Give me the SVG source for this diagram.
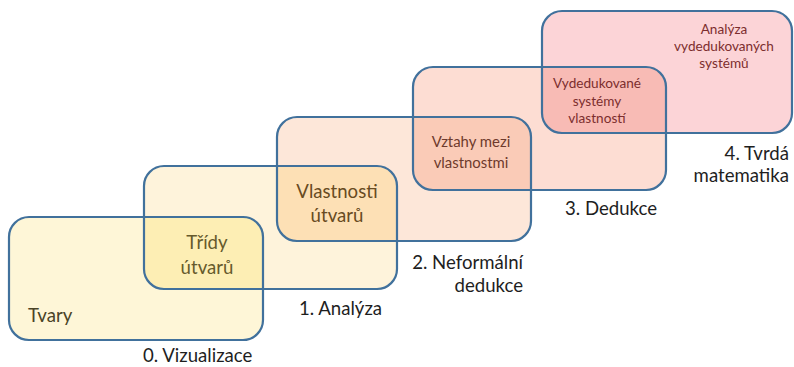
<svg xmlns="http://www.w3.org/2000/svg" xmlns:xlink="http://www.w3.org/1999/xlink" width="794" height="367" viewBox="0 0 794 367">
<style>
.ol{fill:none;stroke:#41719C;stroke-width:2.2}
.lbl{font-family:Lato,"Liberation Sans",sans-serif;font-size:18.6px;fill:#1E1E1E}
.in{font-family:Lato,"Liberation Sans",sans-serif;text-anchor:middle}
.big{font-size:18.6px}
.mid{font-size:14.9px}
.sm{font-size:13.6px}
</style>
<defs>
<rect id="r0" x="9" y="217" width="254" height="123" rx="20"/>
<rect id="r1" x="144" y="166" width="253" height="123" rx="20"/>
<rect id="r2" x="277" y="117" width="254" height="124" rx="20"/>
<rect id="r3" x="413" y="67" width="253" height="123" rx="20"/>
<rect id="r4" x="542" y="11" width="250" height="122" rx="20"/>
<clipPath id="c0"><use xlink:href="#r0"/></clipPath>
<clipPath id="c1"><use xlink:href="#r1"/></clipPath>
<clipPath id="c2"><use xlink:href="#r2"/></clipPath>
<clipPath id="c3"><use xlink:href="#r3"/></clipPath>
</defs>
<rect width="794" height="367" fill="#FFFFFF"/>
<g id="fills">
<use xlink:href="#r0" fill="#FEF6D7"/>
<use xlink:href="#r1" fill="#FEF3DB"/>
<use xlink:href="#r2" fill="#FDE7D9"/>
<use xlink:href="#r3" fill="#FDDDD3"/>
<use xlink:href="#r4" fill="#FCD4D7"/>
<use xlink:href="#r1" fill="#FDEEB4" clip-path="url(#c0)"/>
<use xlink:href="#r2" fill="#FDE0B5" clip-path="url(#c1)"/>
<use xlink:href="#r3" fill="#FACBB7" clip-path="url(#c2)"/>
<use xlink:href="#r4" fill="#F8BBB5" clip-path="url(#c3)"/>
</g>
<g id="stage0">
<use xlink:href="#r0" class="ol"/>
<text class="in big" x="28" y="322" style="text-anchor:start" fill="#4A4326">Tvary</text>
<text class="lbl" x="143" y="362">0. Vizualizace</text>
</g>
<g id="stage1">
<use xlink:href="#r1" class="ol"/>
<text class="in big" x="207" y="249" fill="#665A2C">Třídy</text>
<text class="in big" x="207" y="274" fill="#665A2C">útvarů</text>
<text class="lbl" x="299" y="315">1. Analýza</text>
</g>
<g id="stage2">
<use xlink:href="#r2" class="ol"/>
<text class="in big" x="337" y="198" fill="#684B22">Vlastnosti</text>
<text class="in big" x="337" y="222" fill="#684B22">útvarů</text>
<text class="lbl" x="523" y="269" style="text-anchor:end">2. Neformální</text>
<text class="lbl" x="523" y="292" style="text-anchor:end">dedukce</text>
</g>
<g id="stage3">
<use xlink:href="#r3" class="ol"/>
<text class="in mid" x="471" y="147" fill="#6E3A2C">Vztahy mezi</text>
<text class="in mid" x="471" y="168" fill="#6E3A2C">vlastnostmi</text>
<text class="lbl" x="565" y="215">3. Dedukce</text>
</g>
<g id="stage4">
<use xlink:href="#r4" class="ol"/>
<text class="in sm" x="597" y="88" fill="#7C2E2E">Vydedukované</text>
<text class="in sm" x="597" y="106" fill="#7C2E2E">systémy</text>
<text class="in sm" x="597" y="123" fill="#7C2E2E">vlastností</text>
<text class="in sm" x="724" y="34" fill="#7C2E2E">Analýza</text>
<text class="in sm" x="724" y="51" fill="#7C2E2E">vydedukovaných</text>
<text class="in sm" x="724" y="68" fill="#7C2E2E">systémů</text>
<text class="lbl" x="789" y="160" style="text-anchor:end">4. Tvrdá</text>
<text class="lbl" x="789" y="182" style="text-anchor:end">matematika</text>
</g>
</svg>
